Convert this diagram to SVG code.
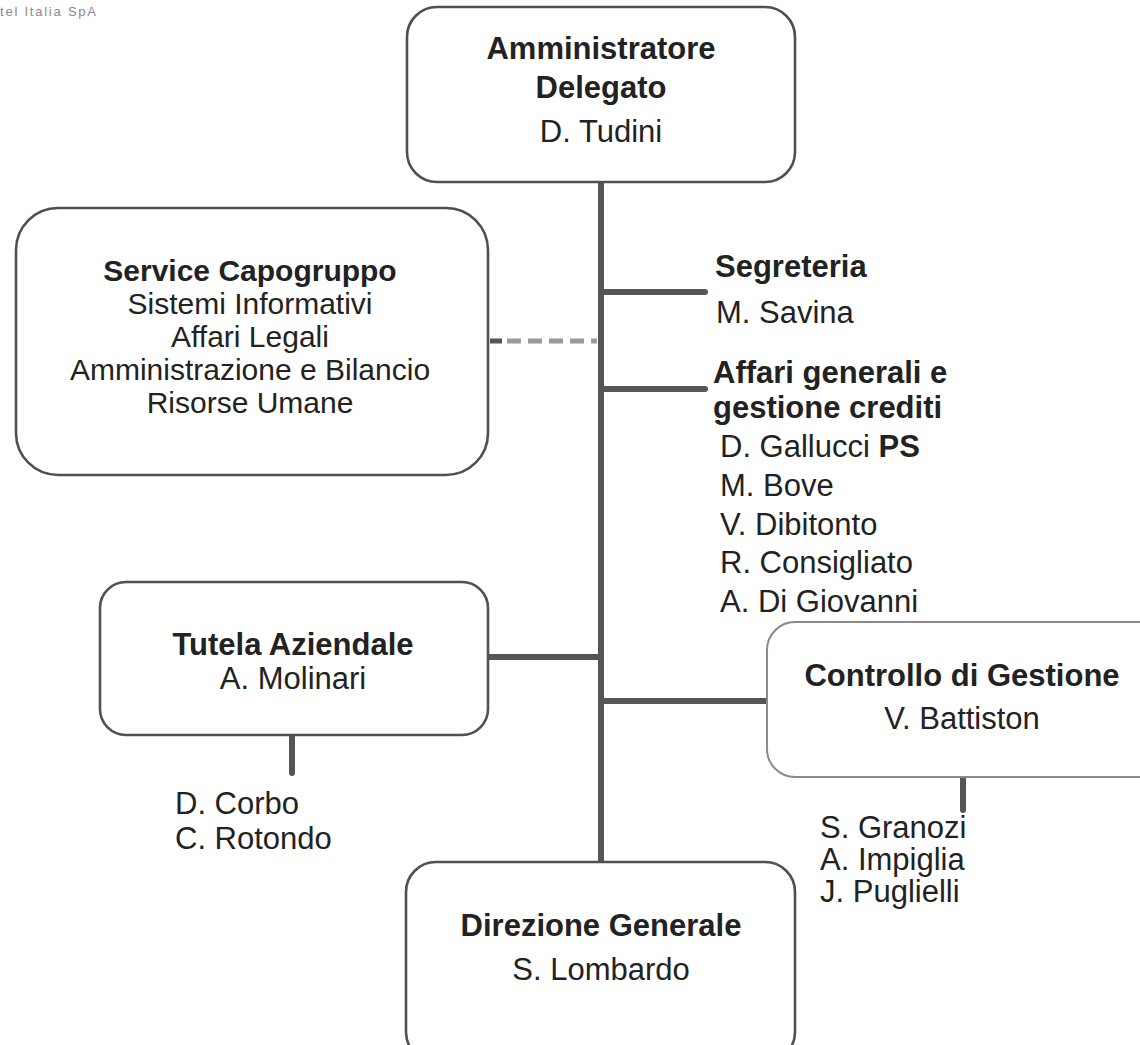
<svg xmlns="http://www.w3.org/2000/svg" width="1140" height="1045" viewBox="0 0 1140 1045">
<style>
.box{fill:#fff;stroke:#505050;stroke-width:2.6}
.faint{fill:#fff;stroke:#8a8a8a;stroke-width:2}
.ln{stroke:#555;stroke-width:6;stroke-linecap:round;fill:none}
.dash{stroke:#9a9a9a;stroke-width:5;stroke-dasharray:14 7;fill:none}
text{font-family:"Liberation Sans",Arial,sans-serif;font-size:31px;fill:#222}
.b{font-weight:bold}
.c{text-anchor:middle}
.s{font-size:30px}
.hdr{font-size:13px;fill:#8a8a8a}
</style>
<rect width="1140" height="1045" fill="#fff"/>
<text class="hdr" x="0" y="16" textLength="96">tel Italia SpA</text>
<g id="connectors">
<line class="ln" x1="601" y1="182" x2="601" y2="862"/>
<line class="ln" x1="601" y1="292" x2="705" y2="292"/>
<line class="ln" x1="601" y1="389" x2="705" y2="389"/>
<line x1="490" y1="341" x2="502" y2="341" stroke="#555" stroke-width="5"/>
<line class="dash" x1="507" y1="341" x2="597" y2="341"/>
<line class="ln" x1="488" y1="657" x2="601" y2="657"/>
<line class="ln" x1="601" y1="701" x2="767" y2="701"/>
<line class="ln" x1="292" y1="735" x2="292" y2="773"/>
<line class="ln" x1="963" y1="777" x2="963" y2="810"/>
</g>
<g id="amministratore">
<rect class="box" x="407" y="7" width="388" height="175" rx="30"/>
<text class="b c" x="601" y="59">Amministratore</text>
<text class="b c" x="601" y="98">Delegato</text>
<text class="c" x="601" y="142">D. Tudini</text>
</g>
<g id="service">
<rect class="box" x="16" y="208" width="472" height="267" rx="42"/>
<text class="b c s" x="250" y="281">Service Capogruppo</text>
<text class="c s" x="250" y="314">Sistemi Informativi</text>
<text class="c s" x="250" y="347">Affari Legali</text>
<text class="c s" x="250" y="380">Amministrazione e Bilancio</text>
<text class="c s" x="250" y="413">Risorse Umane</text>
</g>
<g id="segreteria">
<text class="b" x="715" y="277">Segreteria</text>
<text x="716" y="323">M. Savina</text>
</g>
<g id="affari">
<text class="b" x="713" y="383">Affari generali e</text>
<text class="b" x="713" y="418">gestione crediti</text>
<text x="720" y="457">D. Gallucci <tspan class="b">PS</tspan></text>
<text x="720" y="496">M. Bove</text>
<text x="720" y="535">V. Dibitonto</text>
<text x="720" y="573">R. Consigliato</text>
<text x="720" y="612">A. Di Giovanni</text>
</g>
<g id="tutela">
<rect class="box" x="100" y="582" width="388" height="153" rx="26"/>
<text class="b c" x="293" y="655">Tutela Aziendale</text>
<text class="c" x="293" y="689">A. Molinari</text>
<text x="175" y="814">D. Corbo</text>
<text x="175" y="849">C. Rotondo</text>
</g>
<g id="controllo">
<rect class="faint" x="767" y="622" width="400" height="155" rx="28"/>
<text class="b c" x="962" y="686">Controllo di Gestione</text>
<text class="c" x="962" y="729">V. Battiston</text>
<text x="820" y="838">S. Granozi</text>
<text x="820" y="870">A. Impiglia</text>
<text x="820" y="902">J. Puglielli</text>
</g>
<g id="direzione">
<rect class="box" x="406" y="862" width="389" height="200" rx="30"/>
<text class="b c" x="601" y="936">Direzione Generale</text>
<text class="c" x="601" y="980">S. Lombardo</text>
</g>
</svg>
